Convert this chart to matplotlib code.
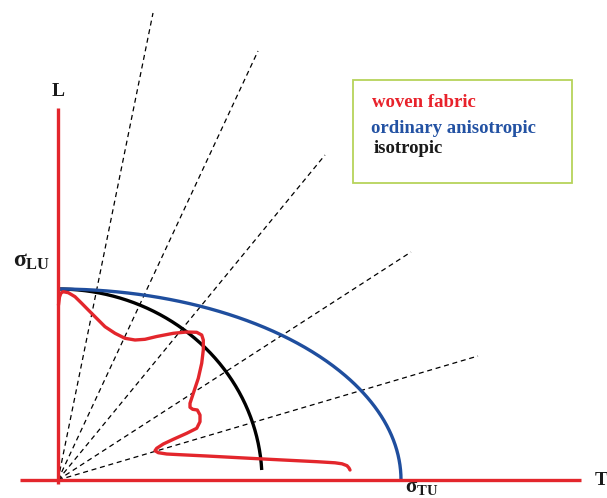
import numpy as np
import matplotlib
matplotlib.use("Agg")
import matplotlib.pyplot as plt
from matplotlib.patches import Rectangle

plt.rcParams['mathtext.fontset'] = 'custom'
plt.rcParams['mathtext.rm'] = 'Liberation Serif:bold'
plt.rcParams['mathtext.it'] = 'Liberation Serif:bold'
plt.rcParams['mathtext.bf'] = 'Liberation Serif:bold'

# ---- data (origin at intersection of L and T axes) ----
sigma_LU = 191          # anisotropic / isotropic strength along L
sigma_TU = 343          # anisotropic strength along T
iso_radius_T = 204      # isotropic curve extent along T
iso_end_height = 10     # isotropic curve stops just above T axis

ray_end_x = [95, 200, 267, 353, 420]
ray_end_y = [467, 429, 325, 228, 124]

woven_x = [0.5, 1.5, 3, 5.3, 10.3, 17, 23.7, 30.3, 37, 47, 57, 67, 77, 87, 98.7,
           115.3, 128.7, 138.7, 143.7, 145.3, 145.3, 143.7, 140.3, 135.3, 132, 132,
           134.7, 139.3, 142, 142, 138.7, 128.7, 115.3, 105.3, 98.7, 97, 100.3,
           108.7, 122, 148.7, 162, 192, 225, 259, 277, 284, 289, 291, 292]
woven_y = [175, 183, 187, 188.3, 187.3, 183.3, 176.7, 170, 163.3, 153.3, 146.7,
           141.7, 140, 140.7, 143.5, 146.7, 148, 147.7, 145, 140, 130, 116.7, 101.7,
           86.7, 76.7, 72.7, 70.7, 70, 65, 58.3, 51.7, 46.7, 40.7, 36, 31.7, 29.3,
           27.3, 26, 25.3, 24, 23.3, 21.7, 20, 18.3, 17.2, 16.2, 14.3, 12, 10]

legend_labels = ["woven fabric", "ordinary anisotropic", "isotropic"]
legend_colors = ["#e8222b", "#2352a3", "#1a1a1a"]

RED = "#e3262c"
BLUE = "#1f4e9e"

fig = plt.figure(figsize=(6.07, 4.98), dpi=100)
ax = fig.add_axes([0, 0, 1, 1])
ax.set_xlim(-58, 549)
ax.set_ylim(-18, 480)
ax.axis("off")

# dashed rays from origin
for ex, ey in zip(ray_end_x, ray_end_y):
    ax.plot([0, ex], [0, ey], color="black", lw=0.9, ls=(0, (4, 3)), zorder=1)

# anisotropic (blue) quarter ellipse
t = np.linspace(0, np.pi / 2, 300)
ax.plot(sigma_TU * np.cos(t), sigma_LU * np.sin(t), color=BLUE, lw=2.4,
        solid_capstyle="butt", zorder=3)

# isotropic (black) arc
t_end = np.arcsin(iso_end_height / sigma_LU)
t2 = np.linspace(t_end, np.pi / 2, 300)
ax.plot(iso_radius_T * np.cos(t2), sigma_LU * np.sin(t2), color="black", lw=2.4,
        solid_capstyle="butt", zorder=2)

# woven fabric (red) curve
ax.plot(woven_x, woven_y, color=RED, lw=2.4, solid_joinstyle="round",
        solid_capstyle="round", zorder=4)

# axes
ax.plot([0, 0], [-4, 372], color=RED, lw=2.4, solid_capstyle="butt", zorder=5)
ax.plot([-38, 523], [0, 0], color=RED, lw=2.4, solid_capstyle="butt", zorder=5)

serif = dict(family="Liberation Serif", weight="bold")
ax.text(0.5, 384, "L", fontsize=14, ha="center", va="baseline", color="#1a1a1a", **serif)
ax.text(537, -5, "T", fontsize=14, ha="left", va="baseline", color="#1a1a1a", **serif)
ax.text(-45, 213, r"$\sigma_{\rm LU}$", fontsize=17, ha="left", va="baseline", color="#1a1a1a")
ax.text(347, -17.3, r"$\sigma_{\rm TU}$", fontsize=15, ha="left", va="bottom", color="#1a1a1a")

# legend box
ax.add_patch(Rectangle((295, 297), 219, 103, fill=False, edgecolor="#b6d35a", lw=1.3, zorder=6))
legend_pos = [(314.3, 372.7), (313, 347.3), (315.3, 326.7)]
for (lx, ly), lab, col in zip(legend_pos, legend_labels, legend_colors):
    ax.text(lx, ly, lab, fontsize=13.5, color=col, ha="left", va="baseline", **serif)

fig.savefig("out.png", dpi=100)
